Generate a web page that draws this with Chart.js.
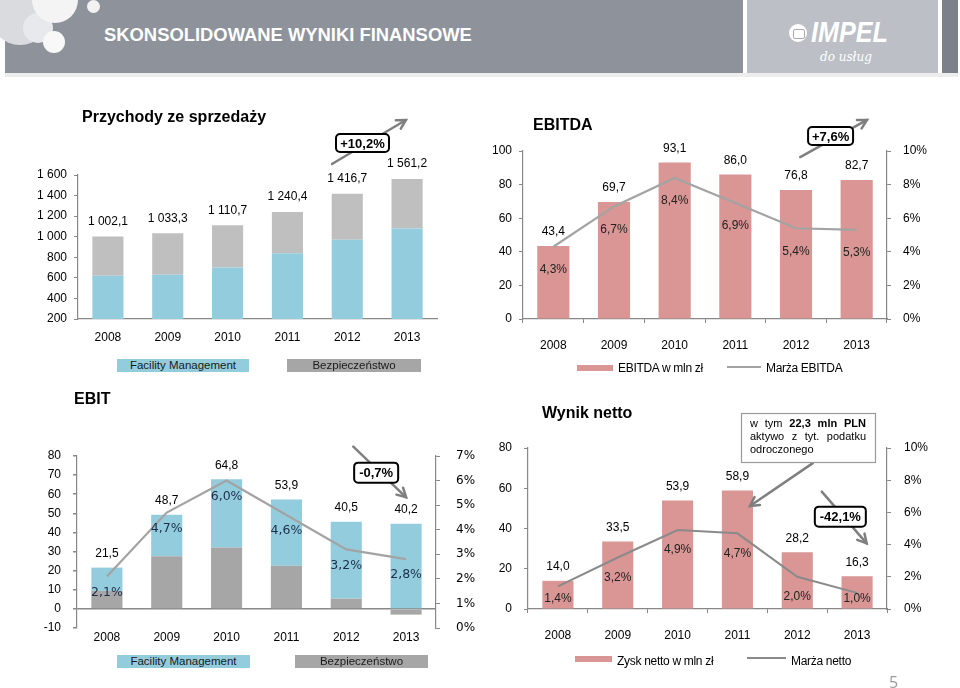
<!DOCTYPE html>
<html lang="pl">
<head>
<meta charset="utf-8">
<title>Skonsolidowane wyniki finansowe</title>
<script src="https://cdn.jsdelivr.net/npm/chart.js@4.4.1/dist/chart.umd.min.js"></script>
<style>
  body { margin: 0; background: #fff; }
  #page { position: relative; width: 960px; height: 688px; overflow: hidden;
          font-family: "Liberation Sans", Arial, sans-serif; color: #000; }
  #page div, #page canvas { position: absolute; }
  #head { left: 5px; top: 0; width: 738px; height: 73px; background: #8e939b; }
  #headLine { left: 5px; top: 73px; width: 953px; height: 4px; background: #ededee; }
  #logoBox { left: 747px; top: 0; width: 191px; height: 73px; background: #bcbfc5; }
  #strip { left: 942px; top: 0; width: 16px; height: 73px; background: #7c8088; }
  .bubble { border-radius: 50%; }
  #headTitle { left: 104px; top: 24px; font-size: 18.4px; line-height: 21px; font-weight: bold;
               color: #fff; white-space: nowrap; }
  #globe { left: 789px; top: 24px; width: 18px; height: 18px; border-radius: 50%; background: #fff; }
  #globe2 { left: 793px; top: 29px; width: 10px; height: 8px; border: 1px solid #aaa; border-radius: 2px; }
  #impel { left: 811px; top: 16px; font-size: 30px; line-height: 32px; font-weight: bold; font-style: italic;
           color: #fff; transform: scaleX(0.84); transform-origin: left top; }
  #usl { left: 820px; top: 50px; font-size: 12px; font-style: italic; color: #fff;
         font-family: "DejaVu Serif", serif; }
  .title { font-weight: bold; font-size: 16px; line-height: 18px; white-space: nowrap; }
  .lgBox { height: 13px; font-size: 11.5px; line-height: 13px; text-align: center; color: #1a1a1a; }
  .lgText { font-size: 12px; line-height: 14px; white-space: nowrap; letter-spacing: -0.3px; }
  #pageNo { left: 889px; top: 671px; font-size: 16px; color: #9a9a9a; font-family: "Open Sans", sans-serif; }
</style>
</head>
<body>
<div id="page">
  <div id="head"></div>
  <div class="bubble" style="left:-10px;top:-15px;width:60px;height:60px;background:#d9dbdf"></div>
  <div class="bubble" style="left:23px;top:13px;width:30px;height:30px;background:#e8e9ec"></div>
  <div class="bubble" style="left:32px;top:-23px;width:46px;height:46px;background:#f4f4f5"></div>
  <div class="bubble" style="left:43px;top:31px;width:22px;height:22px;background:#f8f8f9"></div>
  <div class="bubble" style="left:87px;top:0px;width:13px;height:13px;background:#f2f2f3"></div>
  <div id="headLine"></div>
  <div id="logoBox"></div>
  <div id="strip"></div>
  <div id="headTitle">SKONSOLIDOWANE WYNIKI FINANSOWE</div>
  <div id="globe"></div><div id="globe2"></div>
  <div id="impel">IMPEL</div>
  <div id="usl">do usług</div>

  <canvas id="revChart" width="480" height="285" style="left:0;top:100px"></canvas>
  <canvas id="ebitdaChart" width="480" height="285" style="left:480px;top:100px"></canvas>
  <canvas id="ebitChart" width="480" height="303" style="left:0;top:385px"></canvas>
  <canvas id="netChart" width="480" height="303" style="left:480px;top:385px"></canvas>

  <div class="title" style="left:82px;top:108px">Przychody ze sprzedaży</div>
  <div class="title" style="left:533px;top:116px">EBITDA</div>
  <div class="title" style="left:74px;top:390px">EBIT</div>
  <div class="title" style="left:542px;top:404px">Wynik netto</div>

  <div class="lgBox" style="left:117px;top:359px;width:132px;background:#93cddd">Facility Management</div>
  <div class="lgBox" style="left:287px;top:359px;width:134px;background:#a6a6a6">Bezpieczeństwo</div>
  <div style="left:577px;top:365px;width:36px;height:6px;background:#d99694"></div>
  <div class="lgText" style="left:618px;top:361px">EBITDA w mln zł</div>
  <div style="left:727px;top:366px;width:34px;height:2px;background:#a3a3a3"></div>
  <div class="lgText" style="left:766px;top:361px">Marża EBITDA</div>

  <div class="lgBox" style="left:117px;top:655px;width:133px;background:#93cddd">Facility Management</div>
  <div class="lgBox" style="left:295px;top:655px;width:133px;background:#a6a6a6">Bezpieczeństwo</div>
  <div style="left:575px;top:656px;width:37px;height:6px;background:#d99694"></div>
  <div class="lgText" style="left:617px;top:654px">Zysk netto w mln zł</div>
  <div style="left:747px;top:657px;width:39px;height:2px;background:#8a8a8a"></div>
  <div class="lgText" style="left:791px;top:654px">Marża netto</div>
  <div id="pageNo">5</div>
</div>

<script>
// ---- data ----
const years = ['2008', '2009', '2010', '2011', '2012', '2013'];

// Przychody ze sprzedaży (mln zł)
const revFM = [620, 630, 700, 840, 970, 1080];
const revSecurity = [382.1, 403.3, 410.7, 400.4, 446.7, 481.2];
const revTotal = [1002.1, 1033.3, 1110.7, 1240.4, 1416.7, 1561.2];
const revTicks = [200, 400, 600, 800, 1000, 1200, 1400, 1600];

// EBITDA
const ebitda = [43.4, 69.7, 93.1, 86.0, 76.8, 82.7];
const ebitdaMargin = [4.3, 6.7, 8.4, 6.9, 5.4, 5.3];
const ebitdaTicks = [0, 20, 40, 60, 80, 100];
const pct10Ticks = [0, 2, 4, 6, 8, 10];

// EBIT
const ebitFM = [12.2, 21.8, 35.7, 34.7, 40.2, 44.6];
const ebitSecurity = [9.4, 27.5, 32.1, 22.6, 5.4, -3.0];
const ebitTotal = [21.5, 48.7, 64.8, 53.9, 40.5, 40.2];
const ebitMargin = [2.1, 4.7, 6.0, 4.6, 3.2, 2.8];
const ebitTicks = [-10, 0, 10, 20, 30, 40, 50, 60, 70, 80];
const pct7Ticks = [0, 1, 2, 3, 4, 5, 6, 7];

// Wynik netto
const netProfit = [14.0, 33.5, 53.9, 58.9, 28.2, 16.3];
const netMargin = [1.4, 3.2, 4.9, 4.7, 2.0, 1.0];
const netTicks = [0, 20, 40, 60, 80];

// ---- colours / helpers ----
const BLUE = '#93cddd', GRAY1 = '#bfbfbf', GRAY3 = '#a6a6a6', PINK = '#d99694', LINE = '#a3a3a3', AXIS = '#888888';
const SANS = '"Liberation Sans", Arial, sans-serif';

Chart.defaults.font.family = SANS;
Chart.defaults.font.size = 12;
Chart.defaults.color = '#000';

const comma = v => v.toFixed(1).replace('.', ',');
const spaced = v => String(v).replace(/\B(?=(\d{3})+(?!\d))/g, ' ');
const commaSpaced = v => { const p = v.toFixed(1).split('.'); return spaced(p[0]) + ',' + p[1]; };

function drawArrow(ctx, a, b) {
  ctx.strokeStyle = '#7f7f7f'; ctx.lineWidth = 2.5; ctx.lineCap = 'round';
  ctx.beginPath(); ctx.moveTo(a[0], a[1]); ctx.lineTo(b[0], b[1]); ctx.stroke();
  const ang = Math.atan2(b[1] - a[1], b[0] - a[0]), L = 10;
  ctx.beginPath();
  ctx.moveTo(b[0] - L * Math.cos(ang - 0.5), b[1] - L * Math.sin(ang - 0.5));
  ctx.lineTo(b[0], b[1]);
  ctx.lineTo(b[0] - L * Math.cos(ang + 0.5), b[1] - L * Math.sin(ang + 0.5));
  ctx.stroke();
}

function drawTag(ctx, c, n) {
  const x = c[0] - n.w / 2, y = c[1] - n.h / 2;
  ctx.beginPath(); ctx.roundRect(x, y, n.w, n.h, 4);
  ctx.fillStyle = '#fff'; ctx.fill();
  ctx.lineWidth = 2; ctx.strokeStyle = '#000'; ctx.stroke();
  ctx.fillStyle = '#000'; ctx.font = 'bold 13px ' + SANS;
  ctx.textAlign = 'center'; ctx.textBaseline = 'middle';
  ctx.fillText(n.text, c[0], c[1] + 1);
}

function drawNote(ctx, c, n) {
  const x = Math.round(c[0] - n.w / 2), y = Math.round(c[1] - n.h / 2);
  ctx.fillStyle = '#fff'; ctx.fillRect(x, y, n.w, n.h);
  ctx.strokeStyle = '#9a9a9a'; ctx.lineWidth = 1.2; ctx.strokeRect(x + 0.5, y + 0.5, n.w, n.h);
  const left = x + 9, width = n.w - 18;
  ctx.textAlign = 'left'; ctx.textBaseline = 'middle'; ctx.fillStyle = '#000';
  n.lines.forEach((words, li) => {
    const fonts = words.map(w => (w[0] === '*' ? 'bold ' : '') + '11px ' + SANS);
    const texts = words.map(w => w.replace('*', ''));
    const widths = texts.map((t, k) => { ctx.font = fonts[k]; return ctx.measureText(t).width; });
    const sum = widths.reduce((s, v) => s + v, 0);
    const last = li === n.lines.length - 1;
    const gap = (!last && words.length > 1) ? (width - sum) / (words.length - 1) : 3;
    let cx = left;
    texts.forEach((t, k) => {
      ctx.font = fonts[k];
      ctx.fillText(t, cx, y + 11 + li * 13);
      cx += widths[k] + gap;
    });
  });
}

// labels above bars, percent labels under line points, arrows and boxes
const overlay = {
  id: 'overlay',
  afterDatasetsDraw(chart, args, o) {
    const ctx = chart.ctx, xs = chart.scales.x, ys = chart.scales.y;
    const barIdx = chart.data.datasets.map((d, k) => k).filter(k => chart.data.datasets[k].type !== 'line');
    ctx.save();
    ctx.textAlign = 'center'; ctx.textBaseline = 'middle';
    if (o.top) {
      ctx.font = o.top.font; ctx.fillStyle = '#000';
      o.top.values.forEach((v, i) => {
        const y = Math.min(...barIdx.map(k => chart.getDatasetMeta(k).data[i].y));
        ctx.fillText(o.top.format(v), xs.getPixelForValue(i), y - o.top.offset);
      });
    }
    if (o.pct) {
      const meta = chart.getDatasetMeta(o.pct.dataset);
      ctx.font = o.pct.font; ctx.fillStyle = o.pct.color;
      chart.data.datasets[o.pct.dataset].data.forEach((v, i) => {
        let y = meta.data[i].y + o.pct.offset;
        y = Math.min(y, chart.chartArea.bottom - 10);
        ctx.fillText(comma(v) + '%', meta.data[i].x, y);
      });
    }
    const P = p => [xs.getPixelForValue(p[0]), ys.getPixelForValue(p[1])];
    (o.notes || []).forEach(n => {
      if (n.type === 'arrow') drawArrow(ctx, P(n.from), P(n.to));
      else if (n.type === 'tag') drawTag(ctx, P(n.at), n);
      else drawNote(ctx, P(n.at), n);
    });
    ctx.restore();
  }
};

function yAxis(ticks, width, pad, extra) {
  return Object.assign({
    min: ticks[0], max: ticks[ticks.length - 1],
    afterBuildTicks: s => { s.ticks = ticks.map(v => ({ value: v })); },
    afterFit: s => { s.width = width; },
    border: { display: true, color: AXIS, width: 1.2 },
    grid: { drawOnChartArea: false, tickLength: 4, color: AXIS },
    ticks: { padding: pad }
  }, extra || {});
}

function xAxis(height, pad, ticksOn, extra) {
  return Object.assign({
    afterFit: s => { s.height = height; },
    border: { display: true, color: AXIS, width: 1.2 },
    grid: ticksOn ? { drawOnChartArea: false, tickLength: 4, color: AXIS } : { display: false, drawTicks: false },
    ticks: { padding: pad }
  }, extra || {});
}

const base = { responsive: false, animation: false, devicePixelRatio: 1 };
const noUi = { legend: { display: false }, tooltip: { enabled: false } };

// ---- Przychody ze sprzedaży ----
new Chart(document.getElementById('revChart'), {
  type: 'bar',
  data: {
    labels: years,
    datasets: [
      { label: 'Facility Management', data: revFM, backgroundColor: BLUE, barPercentage: 0.52, categoryPercentage: 1 },
      { label: 'Bezpieczeństwo', data: revSecurity, backgroundColor: GRAY1, barPercentage: 0.52, categoryPercentage: 1 }
    ]
  },
  options: Object.assign({}, base, {
    layout: { padding: { left: 0, top: 75, right: 43, bottom: 36 } },
    scales: {
      x: xAxis(30, 11, false, { stacked: true }),
      y: yAxis(revTicks, 78, 7, { stacked: true, ticks: { padding: 7, callback: v => spaced(v) } })
    },
    plugins: Object.assign({}, noUi, {
      overlay: {
        top: { values: revTotal, format: commaSpaced, offset: 15, font: '12px ' + SANS },
        notes: [
          { type: 'arrow', from: [3.745, 1707], to: [4.98, 2135] },
          { type: 'tag', at: [4.255, 1911], w: 53, h: 18, text: '+10,2%' }
        ]
      }
    })
  }),
  plugins: [overlay]
});

// ---- EBITDA ----
new Chart(document.getElementById('ebitdaChart'), {
  type: 'bar',
  data: {
    labels: years,
    datasets: [
      { type: 'line', label: 'Marża EBITDA', data: ebitdaMargin, yAxisID: 'y1', borderColor: LINE, borderWidth: 2.2,
        pointRadius: 0, tension: 0, order: 0 },
      { label: 'EBITDA w mln zł', data: ebitda, backgroundColor: PINK, barPercentage: 0.53, categoryPercentage: 1, order: 1 }
    ]
  },
  options: Object.assign({}, base, {
    layout: { padding: { left: 0, top: 51, right: 0, bottom: 32 } },
    scales: {
      x: xAxis(34, 15.5, true),
      y: yAxis(ebitdaTicks, 43, 7),
      y1: yAxis(pct10Ticks, 73, 12, { position: 'right', ticks: { padding: 12, callback: v => v + '%' } })
    },
    plugins: Object.assign({}, noUi, {
      overlay: {
        top: { values: ebitda, format: comma, offset: 14, font: '12px ' + SANS },
        pct: { dataset: 0, offset: 23, font: '12px ' + SANS, color: '#222' },
        notes: [
          { type: 'arrow', from: [4.07, 96.4], to: [5.17, 118.5] },
          { type: 'tag', at: [4.57, 108.9], w: 45, h: 18, text: '+7,6%' }
        ]
      }
    })
  }),
  plugins: [overlay]
});

// ---- EBIT ----
new Chart(document.getElementById('ebitChart'), {
  type: 'bar',
  data: {
    labels: years,
    datasets: [
      { type: 'line', label: 'Marża EBIT', data: ebitMargin, yAxisID: 'y1', borderColor: LINE, borderWidth: 2.2,
        pointRadius: 0, tension: 0, order: 0 },
      { label: 'Bezpieczeństwo', data: ebitSecurity, backgroundColor: GRAY3, barPercentage: 0.52, categoryPercentage: 1, order: 1 },
      { label: 'Facility Management', data: ebitFM, backgroundColor: BLUE, barPercentage: 0.52, categoryPercentage: 1, order: 1 }
    ]
  },
  options: Object.assign({}, base, {
    layout: { padding: { left: 0, top: 71, right: 0, bottom: 40 } },
    scales: {
      x: xAxis(20, 2, false, { stacked: true, border: { display: false } }),
      y: yAxis(ebitTicks, 77, 12, {
        stacked: true,
        grid: { drawOnChartArea: true, tickLength: 4, tickColor: AXIS,
                color: c => c.tick && c.tick.value === 0 ? AXIS : 'rgba(0,0,0,0)', lineWidth: 1.5 }
      }),
      y1: yAxis(pct7Ticks, 44, 16, { position: 'right',
        ticks: { padding: 16, font: { family: '"DejaVu Sans", sans-serif', size: 12 }, callback: v => v + '%' } })
    },
    plugins: Object.assign({}, noUi, {
      overlay: {
        top: { values: ebitTotal, format: comma, offset: 14, font: '12px ' + SANS },
        pct: { dataset: 0, offset: 16, font: '12.5px "DejaVu Sans", sans-serif', color: '#1c2e4a' },
        notes: [
          { type: 'arrow', from: [4.118, 84.9], to: [5.0, 58.4] },
          { type: 'tag', at: [4.5, 71.3], w: 44, h: 20, text: '-0,7%' }
        ]
      }
    })
  }),
  plugins: [overlay]
});

// ---- Wynik netto ----
new Chart(document.getElementById('netChart'), {
  type: 'bar',
  data: {
    labels: years,
    datasets: [
      { type: 'line', label: 'Marża netto', data: netMargin, yAxisID: 'y1', borderColor: '#8a8a8a', borderWidth: 2,
        pointRadius: 0, tension: 0, order: 0 },
      { label: 'Zysk netto w mln zł', data: netProfit, backgroundColor: PINK, barPercentage: 0.52, categoryPercentage: 1, order: 1 }
    ]
  },
  options: Object.assign({}, base, {
    layout: { padding: { left: 0, top: 63, right: 0, bottom: 45 } },
    scales: {
      x: xAxis(34, 15, true),
      y: yAxis(netTicks, 48, 12),
      y1: yAxis(pct10Ticks, 73, 13, { position: 'right', ticks: { padding: 13, callback: v => v + '%' } })
    },
    plugins: Object.assign({}, noUi, {
      overlay: {
        top: { values: netProfit, format: comma, offset: 14, font: '12px ' + SANS },
        pct: { dataset: 0, offset: 20, font: '12px ' + SANS, color: '#222' },
        notes: [
          { type: 'arrow', from: [4.26, 72.5], to: [3.21, 51.2] },
          { type: 'note', at: [4.18, 85.2], w: 134, h: 49,
            lines: [['w', 'tym', '*22,3', '*mln', '*PLN'], ['aktywo', 'z', 'tyt.', 'podatku'], ['odroczonego']] },
          { type: 'arrow', from: [4.41, 58.3], to: [5.16, 32.6] },
          { type: 'tag', at: [4.72, 45.9], w: 51, h: 20, text: '-42,1%' }
        ]
      }
    })
  }),
  plugins: [overlay]
});
</script>
</body>
</html>
